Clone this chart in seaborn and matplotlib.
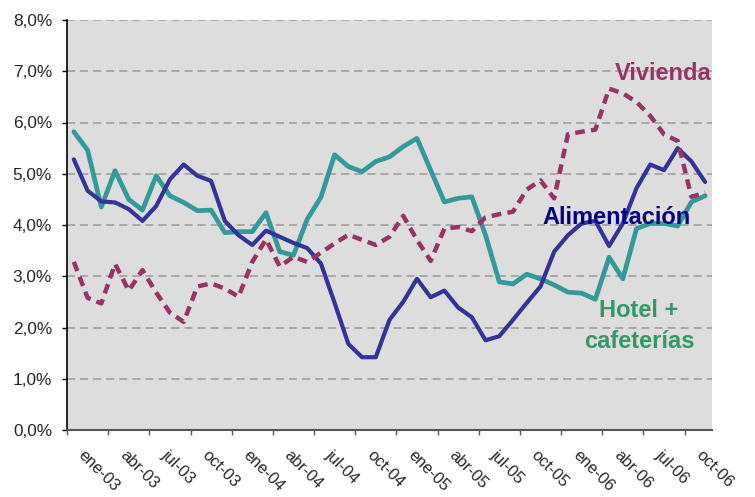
import numpy as np
import pandas as pd
import matplotlib
matplotlib.use('Agg')
import matplotlib.pyplot as plt
import seaborn as sns

# variación interanual (%), mensual ene-03 ... nov-06
alimentacion = [5.28, 4.67, 4.46, 4.44, 4.31, 4.08, 4.37, 4.89, 5.18, 4.96,
                4.86, 4.08, 3.80, 3.61, 3.89, 3.77, 3.65, 3.55, 3.25, 2.48,
                1.68, 1.42, 1.42, 2.15, 2.50, 2.95, 2.59, 2.72, 2.39, 2.20,
                1.75, 1.83, 2.15, 2.48, 2.80, 3.48, 3.80, 4.03, 4.08, 3.59,
                4.03, 4.72, 5.18, 5.07, 5.50, 5.24, 4.84]
vivienda = [3.28, 2.58, 2.47, 3.24, 2.72, 3.12, 2.68, 2.29, 2.11, 2.80,
            2.86, 2.76, 2.60, 3.28, 3.72, 3.19, 3.38, 3.28, 3.46, 3.64,
            3.81, 3.71, 3.61, 3.77, 4.18, 3.71, 3.30, 3.93, 3.96, 3.88,
            4.15, 4.21, 4.26, 4.69, 4.87, 4.52, 5.77, 5.82, 5.86, 6.66,
            6.57, 6.40, 6.13, 5.77, 5.64, 4.55, 4.63]
hotel = [5.82, 5.46, 4.35, 5.06, 4.50, 4.29, 4.96, 4.57, 4.44, 4.28,
         4.29, 3.85, 3.87, 3.87, 4.24, 3.48, 3.41, 4.11, 4.54, 5.37,
         5.14, 5.04, 5.24, 5.33, 5.53, 5.69, 5.07, 4.45, 4.52, 4.55,
         3.80, 2.89, 2.85, 3.04, 2.95, 2.83, 2.69, 2.67, 2.55, 3.37,
         2.95, 3.93, 4.03, 4.03, 3.98, 4.45, 4.57]

etiquetas_x = ['ene-03', 'abr-03', 'jul-03', 'oct-03', 'ene-04', 'abr-04',
               'jul-04', 'oct-04', 'ene-05', 'abr-05', 'jul-05', 'oct-05',
               'ene-06', 'abr-06', 'jul-06', 'oct-06']
etiquetas_y = ['0,0%', '1,0%', '2,0%', '3,0%', '4,0%', '5,0%', '6,0%', '7,0%', '8,0%']

sns.set_style('white')
plt.rcParams['font.family'] = ['Liberation Sans', 'DejaVu Sans']
plt.rcParams['lines.scale_dashes'] = False

df = pd.DataFrame({'mes': np.arange(len(alimentacion)),
                   'Alimentación': alimentacion,
                   'Vivienda': vivienda,
                   'Hotel + cafeterías': hotel})
n = len(df)

fig = plt.figure(figsize=(7.55, 4.97), dpi=100)
ax = fig.add_axes([67 / 755, 1 - 430 / 497, 645 / 755, 410 / 497])
ax.set_facecolor('#dddddd')

sns.lineplot(data=df, x='mes', y='Hotel + cafeterías', color='#339999', lw=3.4, ax=ax)
sns.lineplot(data=df, x='mes', y='Alimentación', color='#333399', lw=3.0, ax=ax)
sns.lineplot(data=df, x='mes', y='Vivienda', color='#993366', lw=3.2, ax=ax,
             linestyle=(0, (7, 4.5)), dash_capstyle='butt')

ax.set_xlim(-0.5, n - 0.5)
ax.set_ylim(0, 8)
ax.set_xlabel('')
ax.set_ylabel('')

# eje y
ax.set_yticks(range(9))
ax.set_yticklabels(etiquetas_y, fontsize=12.4)
ax.tick_params(axis='y', direction='out', length=3.6, width=1, color='black', pad=7.2, left=True)
ax.yaxis.grid(True, linestyle=(0, (5.8, 3.6)), color='#9a9a9a', lw=1.1)
ax.xaxis.grid(False)
ax.set_axisbelow(True)

# eje x: marcas entre categorías, etiquetas cada 3 meses
ax.set_xticks(np.arange(-0.5, n - 1, 3))
ax.set_xticklabels([])
ax.tick_params(axis='x', which='major', direction='out', length=3.6, width=1, color='#555555', bottom=True)
ax.set_xticks(np.arange(0, n, 3) + 0.9, minor=True)
ax.set_xticklabels(etiquetas_x, minor=True, fontsize=11.8, rotation=-45,
                   ha='left', va='top', rotation_mode='anchor')
ax.tick_params(axis='x', which='minor', length=0, pad=12.5)

for s in ['top', 'right']:
    ax.spines[s].set_visible(False)
ax.spines['left'].set_color('black')
ax.spines['left'].set_linewidth(1.2)
ax.spines['bottom'].set_color('#555555')
ax.spines['bottom'].set_linewidth(1.5)

# etiquetas de series
ax.text(0.9245, 0.854, 'Vivienda', transform=ax.transAxes, ha='center', va='baseline',
        fontsize=17, fontweight='bold', color='#993366')
ax.text(0.852, 0.502, 'Alimentación', transform=ax.transAxes, ha='center', va='baseline',
        fontsize=17, fontweight='bold', color='#000080')
ax.text(0.887, 0.276, 'Hotel +', transform=ax.transAxes, ha='center', va='baseline',
        fontsize=17, fontweight='bold', color='#339966')
ax.text(0.887, 0.199, 'cafeterías', transform=ax.transAxes, ha='center', va='baseline',
        fontsize=17, fontweight='bold', color='#339966')

fig.savefig('out.png', dpi=100)
